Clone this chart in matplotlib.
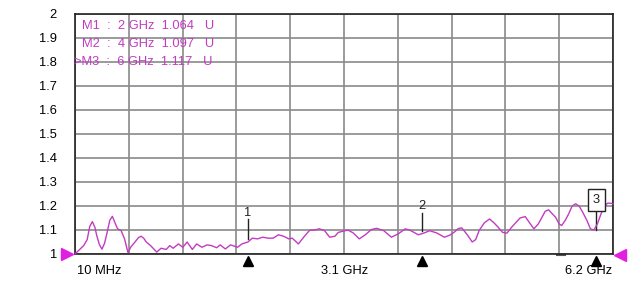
import matplotlib
matplotlib.use("Agg")
import matplotlib.pyplot as plt
import matplotlib.transforms as mtrans
import numpy as np

plt.rcParams['font.family'] = ['Liberation Sans', 'DejaVu Sans']

# trace data (frequency in GHz, VSWR)
freq_ghz = [0.01, 0.11, 0.15, 0.18, 0.21, 0.24, 0.26, 0.29, 0.32, 0.35, 0.38, 0.41, 0.44, 0.47,
            0.50, 0.54, 0.58, 0.62, 0.65, 0.70, 0.74, 0.77, 0.80, 0.83, 0.88, 0.95, 1.00, 1.06,
            1.10, 1.14, 1.20, 1.25, 1.30, 1.36, 1.41, 1.47, 1.53, 1.58, 1.64, 1.68, 1.74, 1.80,
            1.88, 1.93, 2.00, 2.05, 2.11, 2.17, 2.23, 2.29, 2.35, 2.41, 2.47, 2.51, 2.58, 2.65,
            2.71, 2.77, 2.82, 2.88, 2.94, 3.00, 3.04, 3.15, 3.21, 3.28, 3.35, 3.42, 3.48, 3.56,
            3.65, 3.73, 3.81, 3.87, 3.96, 4.03, 4.09, 4.17, 4.26, 4.32, 4.37, 4.42, 4.46, 4.53,
            4.58, 4.62, 4.66, 4.72, 4.78, 4.83, 4.87, 4.93, 4.98, 5.03, 5.07, 5.13, 5.19, 5.24,
            5.29, 5.34, 5.38, 5.42, 5.46, 5.50, 5.54, 5.58, 5.61, 5.65, 5.69, 5.73, 5.77, 5.81,
            5.85, 5.90, 5.94, 5.98, 6.02, 6.06, 6.10, 6.14, 6.18, 6.20]
vswr = [1.000, 1.035, 1.060, 1.115, 1.135, 1.110, 1.077, 1.040, 1.020, 1.045, 1.090, 1.140,
        1.157, 1.130, 1.105, 1.098, 1.063, 1.005, 1.028, 1.050, 1.068, 1.074, 1.066, 1.050,
        1.035, 1.008, 1.024, 1.019, 1.035, 1.024, 1.042, 1.028, 1.050, 1.019, 1.042, 1.028,
        1.038, 1.035, 1.026, 1.038, 1.021, 1.038, 1.028, 1.042, 1.050, 1.066, 1.063, 1.070,
        1.066, 1.066, 1.080, 1.074, 1.063, 1.066, 1.042, 1.074, 1.099, 1.100, 1.105, 1.098,
        1.070, 1.074, 1.090, 1.100, 1.088, 1.063, 1.080, 1.102, 1.107, 1.098, 1.070, 1.084,
        1.105, 1.098, 1.080, 1.088, 1.097, 1.088, 1.070, 1.078, 1.090, 1.106, 1.109, 1.077,
        1.050, 1.060, 1.098, 1.130, 1.146, 1.130, 1.115, 1.090, 1.087, 1.110, 1.126, 1.150,
        1.156, 1.130, 1.105, 1.125, 1.151, 1.178, 1.184, 1.168, 1.153, 1.125, 1.119, 1.140,
        1.167, 1.200, 1.209, 1.200, 1.175, 1.140, 1.105, 1.100, 1.125, 1.165, 1.200, 1.212,
        1.211, 1.209]

# markers
marker_ids = ["1", "2", "3"]
marker_freq = [2.0, 4.0, 6.0]
marker_val = [1.064, 1.097, 1.117]
marker_text = ["M1  :  2 GHz  1.064   U", "M2  :  4 GHz  1.097   U", ">M3  :  6 GHz  1.117   U"]

yticks = [1, 1.1, 1.2, 1.3, 1.4, 1.5, 1.6, 1.7, 1.8, 1.9, 2]
ytick_labels = ["1", "1.1", "1.2", "1.3", "1.4", "1.5", "1.6", "1.7", "1.8", "1.9", "2"]
x_start, x_stop = 0.01, 6.2
x_labels = ["10 MHz", "3.1 GHz", "6.2 GHz"]

trace_c = '#c23cc2'
mag = '#e020e0'
fs = 9.3

fig = plt.figure(figsize=(6.32, 2.82), dpi=100)
ax = fig.add_axes([75/632, 1-254/282, 538/632, 240/282])
ax.set_xlim(x_start, x_stop)
ax.set_ylim(1, 2)

xgrid = np.linspace(x_start, x_stop, 11)
ax.set_xticks(xgrid)
ax.set_xticklabels([])
ax.set_yticks(yticks)
ax.set_yticklabels(ytick_labels, fontsize=fs)
ax.tick_params(length=0, pad=13)
ax.grid(True, color='#8a8a8a', linewidth=1.2)
for s in ax.spines.values():
    s.set_color('#222222')
    s.set_linewidth(1.2)

ax.plot(freq_ghz, vswr, color=trace_c, linewidth=1.0, clip_on=False, zorder=3)

# black marker triangles below the axis
for f in marker_freq:
    ax.plot([f], [1], marker='^', color='black', markersize=7, clip_on=False,
            transform=ax.transData + mtrans.ScaledTranslation(0, -0.07, fig.dpi_scale_trans), zorder=5)

# marker 1 and 2: label with tick line
for mid, f, v, h in [(marker_ids[0], marker_freq[0], marker_val[0], 0.08),
                     (marker_ids[1], marker_freq[1], marker_val[1], 0.075)]:
    ax.plot([f, f], [v, v + h], color='#222222', linewidth=1.0)
    ax.text(f, v + h + 0.003, mid, ha='center', va='bottom', fontsize=fs, color='#222222')

# marker 3: boxed label
f3, v3 = marker_freq[2], marker_val[2]
ax.plot([f3, f3], [1.10, 1.19], color='#222222', linewidth=1.0)
ax.text(f3 + 0.01, 1.226, marker_ids[2], ha='center', va='center', fontsize=fs, color='#222222',
        bbox=dict(boxstyle='square,pad=0.4', facecolor='white', edgecolor='#222222', linewidth=1.0))

# reference dash near bottom
ax.plot([5.55, 5.65], [1.0, 1.0], color='#555555', linewidth=1.5, clip_on=False,
        transform=ax.transData + mtrans.ScaledTranslation(0, -0.01, fig.dpi_scale_trans))

# magenta reference triangles
ax.plot([x_start], [1], marker='>', color=mag, markersize=8, clip_on=False,
        transform=ax.transData + mtrans.ScaledTranslation(-0.08, 0, fig.dpi_scale_trans))
ax.plot([x_stop], [1], marker='<', color=mag, markersize=8, clip_on=False,
        transform=ax.transData + mtrans.ScaledTranslation(0.07, -0.01, fig.dpi_scale_trans))

# marker readout text
for i, t in enumerate(marker_text):
    xoff = 82 if not t.startswith('>') else 74
    fig.text(xoff/632, 1-(26+18*i)/282, t, ha='left', va='center', fontsize=fs, color=trace_c)

# frequency labels
fig.text(77/632, 1-271/282, x_labels[0], ha='left', va='center', fontsize=fs)
fig.text(345/632, 1-271/282, x_labels[1], ha='center', va='center', fontsize=fs)
fig.text(612/632, 1-271/282, x_labels[2], ha='right', va='center', fontsize=fs)

fig.savefig('out.png', dpi=100, facecolor='white')
